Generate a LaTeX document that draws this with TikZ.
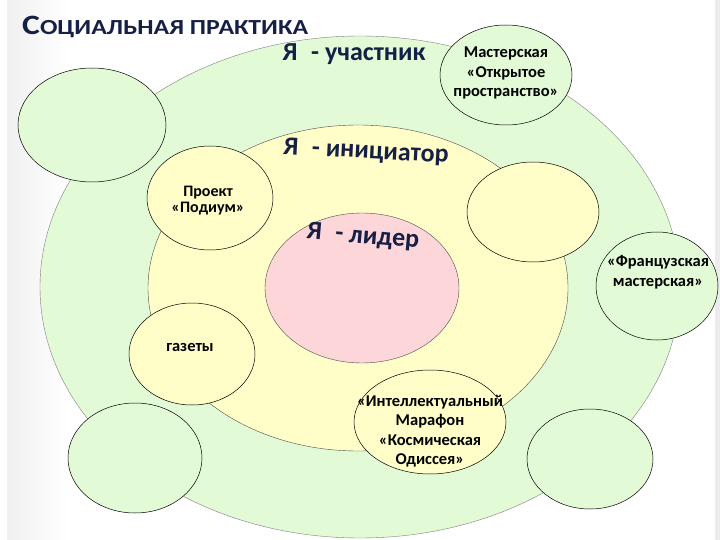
\documentclass[tikz,border=0pt]{standalone}
\usepackage{fontspec}
\setmainfont{Carlito}
\definecolor{zelen}{RGB}{227,250,214}
\definecolor{zhelt}{RGB}{255,253,200}
\definecolor{rozov}{RGB}{252,214,217}
\definecolor{sinij}{RGB}{22,32,70}
\tikzset{
  krugZ/.style={fill=zelen,draw=black,line width=0.5pt},
  krugJ/.style={fill=zhelt,draw=black,line width=0.5pt},
  nadp/.style={align=center,font=\fontsize{16.5}{19.5}\selectfont\bfseries,inner sep=0pt},
  urov/.style={text=sinij,font=\fontsize{26}{26}\selectfont\bfseries,inner sep=0pt}
}
\begin{document}
\begin{tikzpicture}[x=1pt,y=-1pt]
\useasboundingbox (0,0) rectangle (720,540);
\fill[white] (0,0) rectangle (720,540);
\shade[left color=gray!12,right color=white] (7,0) rectangle (70,540); %fond gauche
\fill[gray!15] (715,0) rectangle (720,540); %fond droit
\draw[fill=zelen,draw=gray] (360,287) ellipse [x radius=320,y radius=251]; %participant
\draw[fill=zhelt,draw=gray!60!black] (358,288) ellipse [x radius=210,y radius=163]; %initiateur
\draw[fill=rozov,draw=gray!60!black] (362,288) ellipse [x radius=97,y radius=75]; %leader
\draw[krugZ] (92,125) ellipse [x radius=74,y radius=57];
\draw[krugZ] (506,75) ellipse [x radius=66,y radius=50];
\draw[krugJ] (210,198) ellipse [x radius=63,y radius=52];
\draw[krugJ] (533,212) ellipse [x radius=66,y radius=50];
\draw[krugZ] (657,286) ellipse [x radius=61,y radius=54];
\draw[krugJ] (192,354) ellipse [x radius=63,y radius=51];
\draw[krugZ] (135,458) ellipse [x radius=67,y radius=55];
\draw[krugJ] (430,422) ellipse [x radius=76,y radius=52];
\draw[krugZ] (590,459) ellipse [x radius=63,y radius=50];
\node[anchor=base west,text=sinij,inner sep=0pt,font=\bfseries,xscale=1.2] (titre) at (22,35)
  {{\fontsize{28}{28}\selectfont С}{\fontsize{21.5}{21.5}\selectfont ОЦИАЛЬНАЯ ПРАКТИКА}};
\node[urov] (uchastnik) at (354,54) {Я\hspace{0.3em} - участник};
\node[urov,rotate=-3] (iniciator) at (366,152) {Я\hspace{0.3em} - инициатор};
\node[urov,rotate=-5] (lider) at (363,237) {Я\hspace{0.3em} - лидер};
\node[nadp] (master) at (506,73) {Мастерская\\«Открытое\\пространство»};
\node[nadp,font=\fontsize{16}{16}\selectfont\bfseries] (podium) at (208,201) {Проект\\«Подиум»};
\node[nadp] (french) at (658,272) {«Французская\\мастерская»};
\node[nadp] (gazety) at (190,347) {газеты};
\node[nadp] (intel) at (430,431) {«Интеллектуальный\\Марафон\\«Космическая\\Одиссея»};
\end{tikzpicture}
\end{document}
